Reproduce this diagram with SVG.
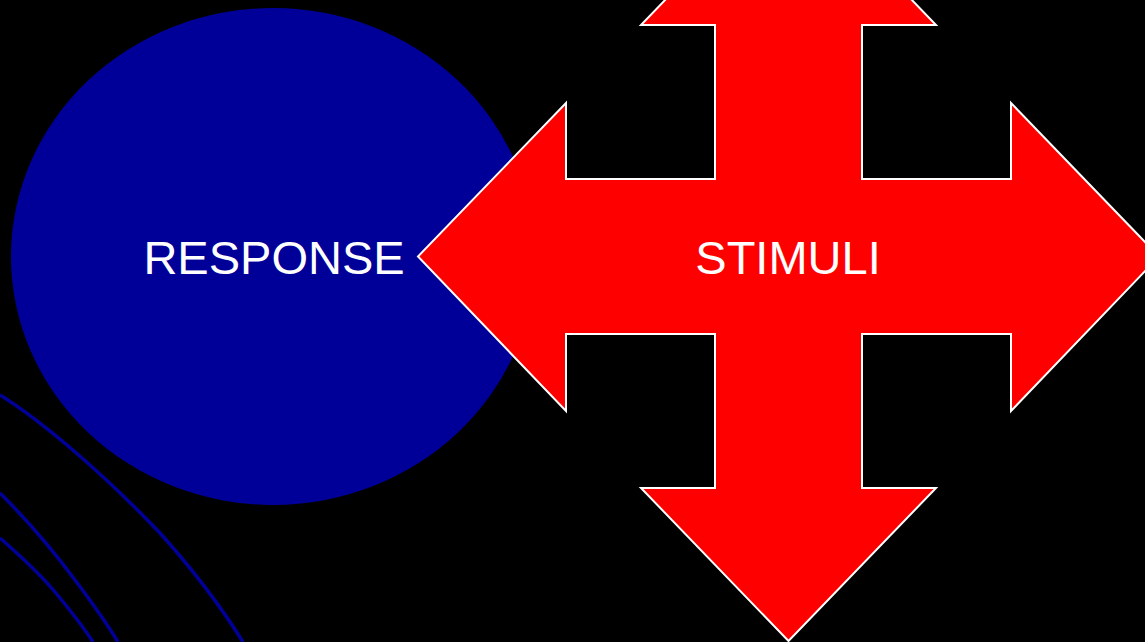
<svg xmlns="http://www.w3.org/2000/svg" width="1145" height="642" viewBox="0 0 1145 642">
<style>
.lbl{font-family:"Liberation Sans",Arial,sans-serif;font-size:47px;fill:#ffffff;text-anchor:middle}
.curve{fill:none;stroke:#000099;stroke-width:3.5}
</style>
<rect width="1145" height="642" fill="#000000"/>
<g id="decor">
<path class="curve" d="M0,395 C40,420 100,470 160,533 C195,572 220,605 243,642"/>
<path class="curve" d="M0,493 C30,523 55,553 75,580 C90,600 105,620 118,642"/>
<path class="curve" d="M0,538 C25,560 45,580 55,592 C70,610 82,625 93,642"/>
</g>
<g id="response">
<ellipse cx="273" cy="256.5" rx="262" ry="248.5" fill="#000099"/>
<text class="lbl" x="274" y="274">RESPONSE</text>
</g>
<g id="stimuli">
<polygon points="788.5,-128 936,25 862,25 862,179 1011,179 1011,103 1159,256.5 1011,411 1011,334 862,334 862,488 936,488 788.5,641 641,488 715,488 715,334 566,334 566,411 418,256.5 566,103 566,179 715,179 715,25 641,25" fill="#ff0000" stroke="#ffffff" stroke-width="2" stroke-linejoin="miter"/>
<text class="lbl" x="788" y="274">STIMULI</text>
</g>
<g id="connectors"/>
</svg>
